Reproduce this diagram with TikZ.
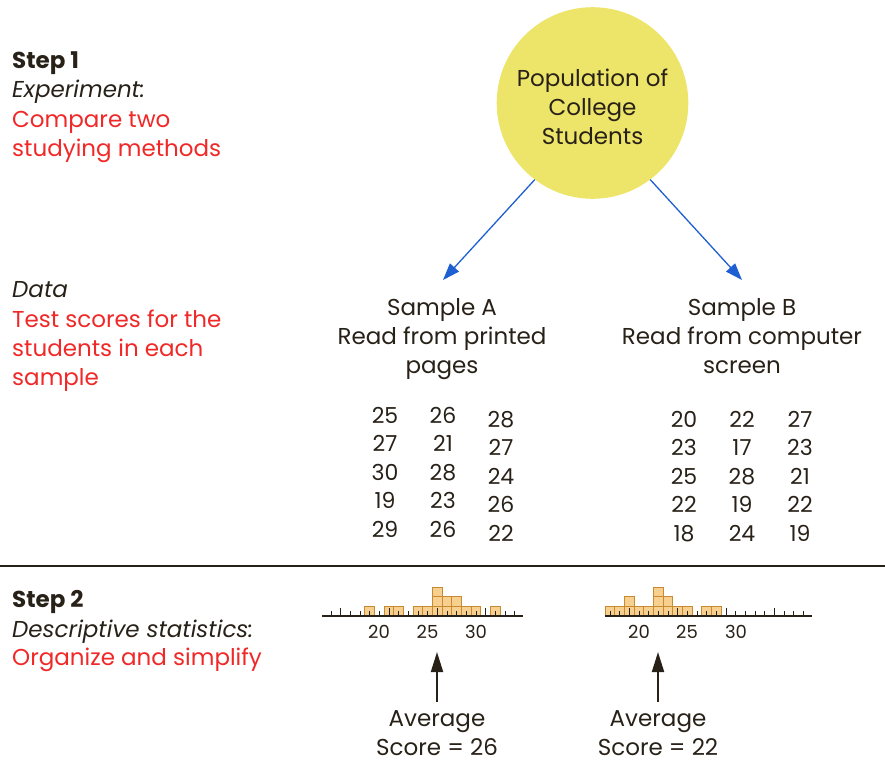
\documentclass[tikz,border=0pt]{standalone}
\usepackage{fontspec}
\setmainfont{Poppins}
\usetikzlibrary{arrows.meta}

\definecolor{inkdark}{RGB}{40,33,24}
\definecolor{stepred}{RGB}{240,40,40}
\definecolor{popyellow}{RGB}{237,228,106}
\definecolor{arrowblue}{RGB}{30,95,210}
\definecolor{boxfill}{RGB}{247,208,143}
\definecolor{boxline}{RGB}{200,138,48}

\newcommand\txtfont{\fontsize{23}{29}\selectfont}
\newcommand\numfont{\fontsize{22}{29}\selectfont}
\newcommand\tickfont{\fontsize{18}{22}\selectfont}

\tikzset{
  plainlbl/.style={inner sep=0pt, anchor=base west, align=left, font=\txtfont, text=inkdark},
  steptitle/.style={plainlbl, font=\txtfont\bfseries},
  stepsub/.style={plainlbl, font=\txtfont\itshape},
  redlbl/.style={plainlbl, text=stepred},
  centerlbl/.style={plainlbl, anchor=base, align=center},
  scorenum/.style={inner sep=0pt, anchor=base, font=\numfont, text=inkdark},
  ticklbl/.style={inner sep=0pt, anchor=base, font=\tickfont, text=inkdark},
  popcircle/.style={circle, fill=popyellow, inner sep=0pt, minimum size=191.6pt},
  flowarrow/.style={arrowblue, line width=1.3pt, -{Triangle[length=17pt,width=12pt]}},
  meanarrow/.style={inkdark, line width=2pt, -{Triangle[length=20pt,width=12pt]}},
  scorebox/.style={fill=boxfill, draw=boxline, line width=0.9pt},
  axisline/.style={inkdark, line width=1.2pt},
  tickline/.style={inkdark, line width=1pt}
}

\begin{document}
\begin{tikzpicture}[x=1pt, y=-1pt]
        \useasboundingbox (0,0) rectangle (885,775);

        % Step 1 (multi-line nodes sit on their last baseline)
        \node[steptitle] (step1) at (12,69) {Step 1};
        \node[stepsub] (expt) at (12,98) {Experiment:};
        \node[redlbl] (goal1) at (12,157) {Compare two\\studying methods};

        % Data
        \node[stepsub] (data) at (12,298) {Data};
        \node[redlbl] (datadesc) at (12,385) {Test scores for the\\students in each\\sample};

        % Population
        \node[popcircle] (pop) at (592.5,103) {};
        \node[centerlbl] (poptext) at (592.5,145) {Population of\\College\\Students};

        % Samples
        \node[centerlbl] (sampA) at (442,373) {Sample A\\Read from printed\\pages};
        \node[centerlbl] (sampB) at (742,373) {Sample B\\Read from computer\\screen};
        \coordinate (tipA) at (443,280);
        \coordinate (tipB) at (742,280);
        \draw[flowarrow] (pop.233) -- (tipA);
        \draw[flowarrow] (pop.307) -- (tipB);

        % Scores of sample A
        \foreach \a/\b/\c [count=\r from 0] in {25/26/28, 27/21/27, 30/28/24, 19/23/26, 29/26/22} {
          \node[scorenum] (scoreA-\r-1) at (385,{423+28.5*\r}) {\a};
          \node[scorenum] (scoreA-\r-2) at (443,{423+28.5*\r}) {\b};
          \node[scorenum] (scoreA-\r-3) at (501,{427+28.5*\r}) {\c};
        }

        % Scores of sample B
        \foreach \a/\b/\c [count=\r from 0] in {20/22/27, 23/17/23, 25/28/21, 22/19/22, 18/24/19} {
          \node[scorenum] (scoreB-\r-1) at (684,{427+28.5*\r}) {\a};
          \node[scorenum] (scoreB-\r-2) at (742,{427+28.5*\r}) {\b};
          \node[scorenum] (scoreB-\r-3) at (800,{427+28.5*\r}) {\c};
        }

        % Trennlinie
        \draw[inkdark, line width=2pt] (0,566) -- (885,566);

        % Step 2
        \node[steptitle] (step2) at (12,607) {Step 2};
        \node[stepsub] (descr) at (12,637) {Descriptive statistics:};
        \node[redlbl] (goal2) at (12,665) {Organize and simplify};

        % Histogram A
        \foreach \k/\n in {4/1, 6/1, 7/1, 9/1, 10/1, 11/3, 12/2, 13/2, 14/1, 15/1, 17/1}
          \foreach \j in {1,...,\n}
            \draw[scorebox] ({331+9.67*\k-4.835},{616-9.67*(\j-1)}) rectangle ++(9.67,-9.67);
        \draw[axisline] (322,616) -- (523,616);
        \foreach \k in {0,...,19}
          \draw[tickline] ({331+9.67*\k},616) -- ++(0,-5);
        \foreach \k in {1,6,11,16}
          \draw[tickline] ({331+9.67*\k},616) -- ++(0,-8);
        \node[ticklbl] (histA20) at (379,638) {20};
        \node[ticklbl] (histA25) at (427.5,638) {25};
        \node[ticklbl] (histA30) at (476,638) {30};

        % Histogram B
        \foreach \k/\n in {0/1, 1/1, 2/2, 3/1, 4/1, 5/3, 6/2, 7/1, 8/1, 10/1, 11/1}
          \foreach \j in {1,...,\n}
            \draw[scorebox] ({610+9.67*\k-4.835},{616-9.67*(\j-1)}) rectangle ++(9.67,-9.67);
        \draw[axisline] (605,616) -- (812,616);
        \foreach \k in {0,...,20}
          \draw[tickline] ({610+9.67*\k},616) -- ++(0,-5);
        \foreach \k in {2,7,12,17}
          \draw[tickline] ({610+9.67*\k},616) -- ++(0,-8);
        \node[ticklbl] (histB20) at (639,638) {20};
        \node[ticklbl] (histB25) at (687,638) {25};
        \node[ticklbl] (histB30) at (736,638) {30};

        % Averages
        \node[centerlbl] (avgA) at (437,755) {Average\\Score = 26};
        \node[centerlbl] (avgB) at (658,755) {Average\\Score = 22};
        \coordinate (meanA) at (437,652);
        \coordinate (meanB) at (658,652);
        \draw[meanarrow, shorten <=8pt] (avgA.north) -- (meanA);
        \draw[meanarrow, shorten <=8pt] (avgB.north) -- (meanB);
\end{tikzpicture}
\end{document}
